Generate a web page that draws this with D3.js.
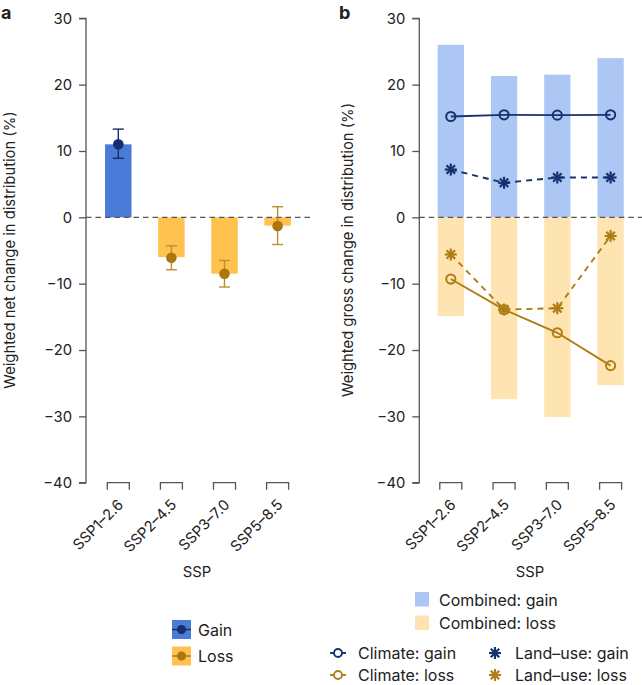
<!DOCTYPE html>
<html><head><meta charset="utf-8">
<script src="https://cdn.jsdelivr.net/npm/d3@7"></script>
<style>
body{margin:0;background:#fff;}
svg text{font-family:Inter,"Open Sans",sans-serif;fill:#222;}
</style></head>
<body><svg id="c" width="642" height="685"></svg>
<script>
const categories = ["SSP1\u20132.6","SSP2\u20134.5","SSP3\u20137.0","SSP5\u20138.5"];
const yTicks = [30,20,10,0,-10,-20,-30,-40];
// panel a
const netBar  = [11.0, -6.0, -8.5, -1.25];
const netMean = [11.0, -6.1, -8.5, -1.3];
const netLow  = [8.9, -7.9, -10.5, -4.1];
const netHigh = [13.3, -4.3, -6.5, 1.6];
// panel b
const combinedGain = [26.0, 21.3, 21.5, 24.0];
const combinedLoss = [-14.9, -27.4, -30.1, -25.3];
const climateGain  = [15.2, 15.45, 15.4, 15.45];
const landuseGain  = [7.2, 5.2, 6.0, 6.0];
const climateLoss  = [-9.3, -13.9, -17.4, -22.35];
const landuseLoss  = [-5.6, -13.9, -13.7, -2.8];

const C = {
  gainA:"#4b7bd8", gainPt:"#142f6c", lossA:"#ffc24f", lossPt:"#a97610",
  gainB:"#adc7f4", lossB:"#fee4b0", navy:"#18326f", gold:"#b07d15",
  axis:"#555"
};
const svg = d3.select("#c");
const y = d3.scaleLinear().domain([-40,30]).range([482.7,18.3]);
const fmt = d => d<0 ? "\u2212"+Math.abs(d) : String(d);
const FS = "14.8px", LFS = "16px";

function panelAxes(axX, xs){
  const g = svg.append("g");
  const ax = d3.axisLeft(y).tickValues(yTicks).tickFormat(fmt).tickSize(7).tickPadding(7);
  const ga = g.append("g").attr("transform",`translate(${axX},0)`).call(ax);
  ga.select(".domain").attr("stroke",C.axis).attr("stroke-width",1.3).attr("d",`M-7,${y(30)}H0V${y(-40)}H-7`);
  ga.selectAll(".tick line").attr("stroke",C.axis).attr("stroke-width",1.3);
  ga.selectAll(".tick text").style("font-size",FS).attr("fill","#222");
  categories.forEach(c=>{
    const cx = xs(c);
    g.append("path").attr("d",`M${cx-11},${y(-40)+7}V${y(-40)}H${cx+11}V${y(-40)+7}`)
      .attr("fill","none").attr("stroke",C.axis).attr("stroke-width",1.3);
    g.append("text").attr("transform",`translate(${cx+6},${y(-40)+23}) rotate(-45)`)
      .attr("text-anchor","end").style("font-size",FS).text(c);
  });
  return g;
}
function zeroLine(x1,x2){
  svg.append("line").attr("x1",x1).attr("x2",x2).attr("y1",y(0)).attr("y2",y(0))
    .attr("stroke","#555").attr("stroke-width",1.4).attr("stroke-dasharray","5.5,4");
}

// ---- Panel a ----
const xa = d3.scalePoint().domain(categories).range([118.3,277.6]);
const bwA = 26.5;
panelAxes(86, xa);
categories.forEach((c,i)=>{
  const v = netBar[i];
  svg.append("rect").attr("x",xa(c)-bwA/2).attr("width",bwA)
    .attr("y",y(Math.max(0,v))).attr("height",Math.abs(y(v)-y(0)))
    .attr("fill", v>=0?C.gainA:C.lossA);
});
zeroLine(86,310);
categories.forEach((c,i)=>{
  const gain = netBar[i]>=0;
  const col = gain?C.gainPt:"#c08d2c";
  const cx = xa(c);
  const g = svg.append("g").attr("stroke",col).attr("stroke-width",1.4);
  g.append("line").attr("x1",cx).attr("x2",cx).attr("y1",y(netLow[i])).attr("y2",y(netHigh[i]));
  g.append("line").attr("x1",cx-5.5).attr("x2",cx+5.5).attr("y1",y(netLow[i])).attr("y2",y(netLow[i]));
  g.append("line").attr("x1",cx-5.5).attr("x2",cx+5.5).attr("y1",y(netHigh[i])).attr("y2",y(netHigh[i]));
  svg.append("circle").attr("cx",cx).attr("cy",y(netMean[i])).attr("r",5.3).attr("fill",gain?C.gainPt:C.lossPt);
});
svg.append("text").attr("transform",`translate(15,250) rotate(-90)`).attr("text-anchor","middle")
  .style("font-size",FS).text("Weighted net change in distribution (%)");
svg.append("text").attr("x",197).attr("y",577).attr("text-anchor","middle").style("font-size",FS).text("SSP");
svg.append("text").attr("x",1).attr("y",19).style("font-size","18px").style("font-weight","bold").attr("fill","#000").text("a");

// ---- Panel b ----
const xb = d3.scalePoint().domain(categories).range([450.8,610.6]);
const bwB = 26.3;
panelAxes(419.3, xb);
categories.forEach((c,i)=>{
  svg.append("rect").attr("x",xb(c)-bwB/2).attr("width",bwB)
    .attr("y",y(combinedGain[i])).attr("height",y(0)-y(combinedGain[i])).attr("fill",C.gainB);
  svg.append("rect").attr("x",xb(c)-bwB/2).attr("width",bwB)
    .attr("y",y(0)).attr("height",y(combinedLoss[i])-y(0)).attr("fill",C.lossB);
});
zeroLine(419.3,642);

function asterisk(g,cx,cy,r,col){
  [0,45,90,135].forEach(a=>{
    const rad=a*Math.PI/180, dx=Math.cos(rad)*r, dy=Math.sin(rad)*r;
    g.append("line").attr("x1",cx-dx).attr("x2",cx+dx).attr("y1",cy-dy).attr("y2",cy+dy)
      .attr("stroke",col).attr("stroke-width",2.2);
  });
}
function series(vals,col,dashed,marker){
  const line = d3.line().x((d,i)=>xb(categories[i])).y(d=>y(d));
  svg.append("path").attr("d",line(vals)).attr("fill","none").attr("stroke",col)
    .attr("stroke-width",1.9).attr("stroke-dasharray",dashed?"6,5":null);
  const g = svg.append("g");
  vals.forEach((v,i)=>{
    const cx=xb(categories[i]), cy=y(v);
    if(marker==="circle") g.append("circle").attr("cx",cx).attr("cy",cy).attr("r",4.6)
      .attr("fill","none").attr("stroke",col).attr("stroke-width",2);
    else asterisk(g,cx,cy,6,col);
  });
}
series(climateLoss,C.gold,false,"circle");
series(landuseLoss,C.gold,true,"star");
series(climateGain,C.navy,false,"circle");
series(landuseGain,C.navy,true,"star");

svg.append("text").attr("transform",`translate(353,250) rotate(-90)`).attr("text-anchor","middle")
  .style("font-size",FS).text("Weighted gross change in distribution (%)");
svg.append("text").attr("x",530).attr("y",577).attr("text-anchor","middle").style("font-size",FS).text("SSP");
svg.append("text").attr("x",339).attr("y",19).style("font-size","18px").style("font-weight","bold").attr("fill","#000").text("b");

// ---- Legend a ----
[["Gain",C.gainA,C.gainPt,620],["Loss",C.lossA,C.lossPt,646.5]].forEach(([t,bc,pc,yy])=>{
  svg.append("rect").attr("x",172).attr("y",yy).attr("width",19).attr("height",19).attr("fill",bc);
  svg.append("line").attr("x1",172).attr("x2",191).attr("y1",yy+9.5).attr("y2",yy+9.5).attr("stroke",pc).attr("stroke-width",1.4);
  svg.append("circle").attr("cx",181.5).attr("cy",yy+9.5).attr("r",4.5).attr("fill",pc);
  svg.append("text").attr("x",198).attr("y",yy+15.5).style("font-size",LFS).text(t);
});
// ---- Legend b ----
[["Combined: gain",C.gainB,592],["Combined: loss",C.lossB,615.5]].forEach(([t,bc,yy])=>{
  svg.append("rect").attr("x",415).attr("y",yy).attr("width",14).attr("height",14.5).attr("fill",bc);
  svg.append("text").attr("x",439).attr("y",yy+13.5).style("font-size",LFS).text(t);
});
[["Climate: gain",C.navy,"circle",338,653],["Land\u2013use: gain",C.navy,"star",495,653],
 ["Climate: loss",C.gold,"circle",338,675],["Land\u2013use: loss",C.gold,"star",495,675]].forEach(([t,col,m,cx,cy])=>{
  const g = svg.append("g");
  if(m==="circle"){
    g.append("line").attr("x1",cx-8).attr("x2",cx+8).attr("y1",cy).attr("y2",cy).attr("stroke",col).attr("stroke-width",1.9);
    g.append("circle").attr("cx",cx).attr("cy",cy).attr("r",4).attr("fill","#fff").attr("stroke",col).attr("stroke-width",1.9);
  } else {
    asterisk(g,cx,cy,6,col);
  }
  svg.append("text").attr("x",cx+20).attr("y",cy+5.5).style("font-size",LFS).text(t);
});
</script></body></html>
